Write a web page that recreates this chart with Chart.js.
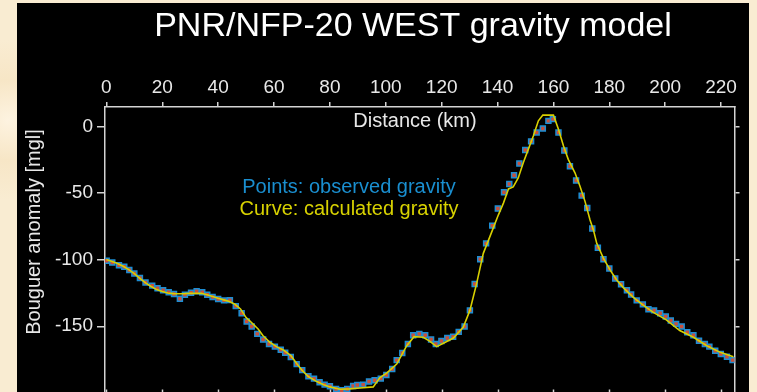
<!DOCTYPE html>
<html>
<head>
<meta charset="utf-8">
<script src="https://cdn.jsdelivr.net/npm/chart.js@4/dist/chart.umd.min.js"></script>
<style>
html,body{margin:0;padding:0;width:757px;height:392px;overflow:hidden;}
body{background:#f8ebd1;background-image:radial-gradient(circle at 8px 120px,#fdf3e0 0,#f7e6c6 40px,#f9ecd2 80px),radial-gradient(circle at 752px 300px,#fbf0dc 0,#f6e5c5 60px);}
#panel{position:absolute;left:17px;top:3px;width:732px;height:400px;background:#000;}
#c{position:absolute;left:0;top:0;width:757px;height:400px;}
</style>
</head>
<body>
<div id="panel"></div>
<canvas id="c" width="757" height="400"></canvas>
<script>
// ---- data ----
const titleText = 'PNR/NFP-20 WEST gravity model';
const xTitle = 'Distance (km)';
const yTitle = 'Bouguer anomaly [mgl]';
const legendObs = 'Points: observed gravity';
const legendCalc = 'Curve: calculated gravity';

const obsKm = [0.1,2.1,4.5,6.4,8.2,10.0,12.0,14.0,16.4,18.3,20.3,22.3,24.2,26.3,28.1,30.3,32.3,34.3,36.1,38.0,40.0,42.1,44.2,46.3,48.4,50.2,
  52.0,54.0,56.1,58.2,60.3,62.4,64.0,66.0,68.1,70.1,72.3,74.3,76.3,78.1,80.0,82.2,84.2,86.2,88.3,89.8,91.9,94.0,96.0,98.2,100.2,102.3,103.9,105.9,107.9,109.8,
  112.0,114.1,116.2,117.9,119.9,122.0,124.1,126.1,128.2,130.1,131.8,133.8,135.9,138.1,140.1,142.3,144.2,145.9,147.8,149.9,152.0,154.0,156.2,158.2,159.8,
  161.8,163.9,165.9,168.1,170.1,172.1,173.9,175.9,177.9,180.0,182.1,184.2,186.3,187.8,189.8,192.0,194.0,196.0,198.2,200.2,202.0,203.9,205.9,207.9,210.1,
  212.1,214.2,215.8,217.9,219.9,222.1,224.1];
const obsMgal = [-100.9,-102.1,-104.2,-105.4,-107.8,-110.4,-113.8,-117.2,-119.5,-121.5,-123.0,-124.5,-125.8,-129.3,-126.3,-124.8,-123.8,-124.5,-126.3,-128.1,-129.6,-130.6,-130.4,-134.9,-140.2,-146.5,
  -150.2,-155.7,-160.0,-163.3,-165.3,-167.6,-169.9,-173.1,-178.4,-182.9,-187.5,-189.3,-192.0,-193.8,-195.0,-197.1,-198.0,-197.1,-194.8,-194.0,-193.8,-191.5,-190.5,-189.3,-186.5,-182.0,-175.4,-170.1,-163.3,-156.8,
  -155.7,-156.8,-160.0,-163.3,-161.0,-158.8,-157.8,-154.2,-150.2,-138.1,-118.3,-99.8,-87.8,-74.5,-61.6,-49.5,-43.2,-36.7,-27.9,-17.8,-11.3,-4.7,-1.7,4.1,5.4,
  -4.7,-18.1,-29.9,-40.7,-52.0,-61.3,-76.7,-91.1,-99.8,-106.6,-114.2,-118.5,-123.0,-126.1,-130.6,-133.6,-137.2,-138.1,-140.2,-142.7,-145.7,-148.2,-150.2,-154.5,-156.8,
  -160.8,-163.3,-165.3,-168.4,-170.8,-172.9,-175.4];

const calcKm = [0,2,4,6,8,10,12,14,16,18,20,22,24,26,28,30,32,34,36,38,40,42,44,46,48,50,51.4,54.3,56,58.5,61,63.3,66,68.1,70,72.3,75.3,78,80,83.6,87,90.8,95.5,
  97.9,100.3,103.9,107.5,110.1,113.4,115.8,118.2,120.6,124.2,127.7,130.1,132.5,134.9,138.2,140.3,142.1,143.9,145.6,147.4,149.2,151,152.8,154.6,156.2,160,
  161.8,163.6,165.3,167.7,169.5,171.3,173.1,174.3,175.5,177.9,180.3,182.7,185,188.5,192,195.6,200.4,205.2,210.1,214.9,219.7,224.4];
const calcMgal = [-100,-101.5,-103,-105,-107.5,-110.5,-114,-117.5,-120.2,-122.5,-124,-125,-125.5,-125.6,-125.5,-125.3,-125.2,-125.3,-126.3,-127.6,-129,-130.2,-131.5,-133.5,-137,-143.5,-146.2,-152,-157,-162,-165.5,-167.8,-172,-178,-183,-187.8,-191.5,-194,-195.5,-197.3,-197,-196.3,-195.5,
  -188.5,-185.2,-178.4,-164.6,-157.8,-158.3,-161.3,-165.3,-162.8,-158.8,-150.8,-138.1,-118,-95.3,-77.7,-66.4,-57.6,-47,-45.5,-38.7,-27.3,-17.3,-7.3,4.1,8.4,8.4,
  -2.2,-14.8,-24.8,-34.9,-45,-56.3,-70.2,-77.7,-87.8,-99.1,-107.9,-115.5,-121,-128.1,-134,-139.4,-145.2,-153.2,-158.3,-164.6,-169.6,-172.9];

const xStep = 20;
const yStep = 50;

// ---- styles ----
const FONT = '"Liberation Sans", Arial, Helvetica, sans-serif';
const axisColor = '#d4d4d4';
const textColor = '#e8e8e8';

const decor = {
  id: 'decor',
  afterDraw(chart) {
    const ctx = chart.ctx, a = chart.chartArea, xs = chart.scales.x;
    ctx.save();
    // inward ticks on the bottom axis
    ctx.strokeStyle = axisColor; ctx.lineWidth = 1.5;
    xs.ticks.forEach(t => {
      const px = Math.round(xs.getPixelForValue(t.value)) + 0.5;
      ctx.beginPath(); ctx.moveTo(px, a.bottom); ctx.lineTo(px, a.bottom - 5); ctx.stroke();
    });
    ctx.beginPath(); ctx.moveTo(a.left, a.bottom); ctx.lineTo(a.right, a.bottom); ctx.stroke();
    // title
    ctx.fillStyle = '#ffffff';
    ctx.textAlign = 'center'; ctx.textBaseline = 'alphabetic';
    ctx.font = '34px ' + FONT;
    ctx.fillText(titleText, 413, 35.5);
    // x axis title (inside plot)
    ctx.fillStyle = textColor;
    ctx.font = '20px ' + FONT;
    ctx.fillText(xTitle, 415, 126.5);
    // legend texts
    ctx.fillStyle = '#1a8fd0';
    ctx.fillText(legendObs, 349, 193);
    ctx.fillStyle = '#d8d200';
    ctx.fillText(legendCalc, 349, 215);
    // y axis title
    ctx.fillStyle = textColor;
    ctx.translate(40, 232);
    ctx.rotate(-Math.PI / 2);
    ctx.fillText(yTitle, 0, 0);
    ctx.restore();
  }
};

const yMin = -201.2, yMax = 14.5;
const tickFont = {family: FONT, size: 19};
const noPadV = w => s => { s.width = w; s.paddingTop = 0; s.paddingBottom = 0; };

new Chart(document.getElementById('c'), {
  type: 'scatter',
  data: {
    datasets: [
      {
        label: 'calculated',
        data: calcKm.map((x, i) => ({x: x, y: calcMgal[i]})),
        showLine: true,
        borderColor: '#d8d000',
        borderWidth: 1.6,
        pointRadius: 0,
        pointHoverRadius: 0,
        tension: 0,
        fill: false
      },
      {
        label: 'observed',
        data: obsKm.map((x, i) => ({x: x, y: obsMgal[i]})),
        showLine: false,
        pointStyle: 'rect',
        pointRadius: 3.5,
        backgroundColor: '#c8503c',
        borderColor: '#1c8ed4',
        borderWidth: 1.5
      }
    ]
  },
  options: {
    responsive: false,
    maintainAspectRatio: false,
    animation: false,
    devicePixelRatio: 1,
    layout: {padding: {left: 0, right: 0, top: 0, bottom: 5.5}},
    plugins: {legend: {display: false}, tooltip: {enabled: false}, title: {display: false}},
    scales: {
      x: {
        type: 'linear', position: 'top', min: -0.5, max: 224.8,
        afterFit: s => { s.height = 107; s.paddingLeft = 0; s.paddingRight = 0; },
        ticks: {stepSize: xStep, includeBounds: false, color: textColor, font: tickFont, padding: 3, maxRotation: 0, autoSkip: false},
        grid: {drawOnChartArea: false, drawTicks: true, tickLength: 5, color: axisColor, lineWidth: 1.5},
        border: {display: true, color: axisColor, width: 1.5}
      },
      y: {
        type: 'linear', position: 'left', min: yMin, max: yMax,
        afterFit: noPadV(105),
        ticks: {stepSize: yStep, includeBounds: false, color: textColor, font: tickFont, padding: 4,
                callback: v => (v < -175 ? '' : String(v))},
        grid: {drawOnChartArea: false, drawTicks: true, tickLength: 8, color: axisColor, lineWidth: 1.5},
        border: {display: true, color: axisColor, width: 1.5}
      },
      y2: {
        type: 'linear', position: 'right', min: yMin, max: yMax,
        afterFit: noPadV(22.5),
        ticks: {stepSize: yStep, includeBounds: false, display: false},
        grid: {drawOnChartArea: false, drawTicks: true, tickLength: 5, color: axisColor, lineWidth: 1.5},
        border: {display: true, color: axisColor, width: 1.5}
      }
    }
  },
  plugins: [decor]
});
</script>
</body>
</html>
